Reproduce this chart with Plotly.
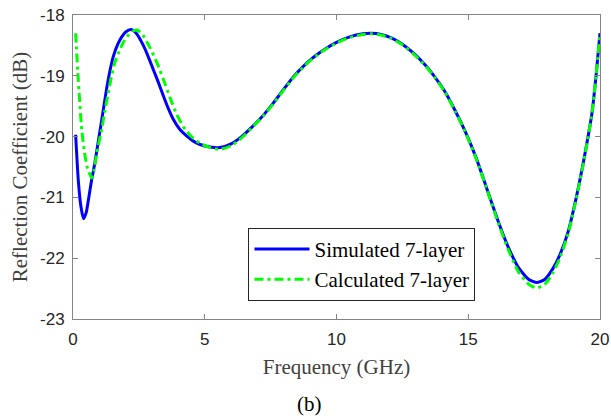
import plotly.graph_objects as go

# Simulated 7-layer (blue solid)
sim_freq = [0.1, 0.2, 0.3, 0.4, 0.5, 0.6, 0.7, 0.83, 1.0, 1.1, 1.28, 1.4, 1.53, 1.7,
            1.85, 2.0, 2.2, 2.4, 2.67, 2.85, 3.05, 3.25, 3.43, 3.6, 3.81, 4.05, 4.31,
            4.55, 4.82, 5.2, 5.58, 6.0, 6.4, 6.8, 7.2, 7.6, 8.0, 8.4, 8.8, 9.2, 9.6,
            10.0, 10.5, 11.0, 11.3, 11.7, 12.1, 12.5, 12.9, 13.3, 13.7, 14.1, 14.5,
            14.9, 15.3, 15.7, 16.1, 16.5, 16.9, 17.3, 17.6, 17.9, 18.2, 18.5, 18.8,
            19.1, 19.4, 19.7, 19.85, 20.0]
sim_db = [-19.97, -20.71, -21.15, -21.35, -21.25, -21.0, -20.73, -20.43, -19.97, -19.7,
          -19.2, -18.92, -18.68, -18.48, -18.36, -18.28, -18.24, -18.3, -18.5, -18.68,
          -18.9, -19.12, -19.33, -19.52, -19.72, -19.88, -19.99, -20.07, -20.13,
          -20.17, -20.18, -20.12, -20.0, -19.84, -19.66, -19.45, -19.22, -19.0,
          -18.82, -18.67, -18.55, -18.45, -18.36, -18.31, -18.3, -18.32, -18.38,
          -18.48, -18.62, -18.79, -19.0, -19.25, -19.57, -19.93, -20.35, -20.85,
          -21.35, -21.8, -22.15, -22.35, -22.4, -22.35, -22.18, -21.92, -21.55,
          -21.0, -20.35, -19.6, -19.0, -18.3]

# Calculated 7-layer (green dash-dot)
calc_freq = [0.1, 0.2, 0.33, 0.45, 0.55, 0.71, 0.8, 0.9, 1.09, 1.2, 1.34, 1.45, 1.59,
             1.75, 1.91, 2.1, 2.29, 2.45, 2.65, 2.9, 3.2, 3.43, 3.7, 3.94, 4.25, 4.57,
             4.9, 5.2, 5.58, 6.0, 6.4, 6.8, 7.2, 7.6, 8.0, 8.4, 8.8, 9.2, 9.6, 10.0,
             10.5, 11.0, 11.3, 11.7, 12.1, 12.5, 12.9, 13.3, 13.7, 14.1, 14.5, 14.9,
             15.3, 15.7, 16.1, 16.5, 16.9, 17.3, 17.6, 17.9, 18.2, 18.5, 18.8, 19.1,
             19.4, 19.7, 19.85, 20.0]
calc_db = [-18.3, -19.06, -19.88, -20.3, -20.52, -20.68, -20.55, -20.27, -19.88, -19.6,
           -19.28, -19.03, -18.78, -18.6, -18.45, -18.33, -18.26, -18.25, -18.33,
           -18.52, -18.8, -19.06, -19.38, -19.64, -19.88, -20.03, -20.13, -20.18,
           -20.21, -20.15, -20.02, -19.85, -19.67, -19.46, -19.23, -19.01, -18.83,
           -18.68, -18.56, -18.46, -18.37, -18.32, -18.31, -18.33, -18.39, -18.49,
           -18.63, -18.8, -19.01, -19.26, -19.58, -19.94, -20.36, -20.86, -21.37,
           -21.84, -22.22, -22.43, -22.49, -22.43, -22.25, -21.97, -21.58, -21.02,
           -20.37, -19.6, -19.0, -18.3]

x_ticks = [0, 5, 10, 15, 20]
y_ticks = [-23, -22, -21, -20, -19, -18]
y_tick_text = ['-23', '-22', '-21', '-20', '-19', '-18']

serif = 'Liberation Serif'
sans = 'Liberation Sans'
axis_grey = '#858585'

fig = go.Figure()

fig.add_trace(go.Scatter(
    x=sim_freq, y=sim_db, mode='lines', name='Simulated 7-layer',
    line=dict(color='#0000FF', width=3, shape='spline', smoothing=0.6)
))
fig.add_trace(go.Scatter(
    x=calc_freq, y=calc_db, mode='lines', name='Calculated 7-layer',
    line=dict(color='#00FF00', width=3, shape='spline', smoothing=0.6,
              dash='9px,4px,3px,4px')
))

axis_style = dict(
    showline=True, linecolor=axis_grey, linewidth=1, mirror='ticks',
    ticks='inside', ticklen=5, tickcolor=axis_grey, showgrid=False,
    zeroline=False, automargin=False,
    tickfont=dict(family=sans, size=17, color='#262626')
)

fig.update_xaxes(
    range=[0, 20], tickvals=x_ticks, ticklabelstandoff=5,
    title=dict(text='Frequency (GHz)', font=dict(family=serif, size=21, color='#404040'),
               standoff=10),
    **axis_style
)
fig.update_yaxes(
    range=[-23, -18], tickvals=y_ticks, ticktext=y_tick_text, ticklabelstandoff=4,
    title=dict(text='Reflection Coefficient (dB)',
               font=dict(family=serif, size=21, color='#404040'), standoff=6),
    **axis_style
)

fig.add_annotation(
    text='(b)', xref='paper', yref='paper', x=0.448, y=-0.28,
    xanchor='center', yanchor='middle', showarrow=False,
    font=dict(family=serif, size=21, color='#000000')
)

fig.update_layout(
    width=611, height=419,
    margin=dict(l=73, r=11, t=15, b=100),
    paper_bgcolor='white', plot_bgcolor='white',
    legend=dict(
        x=0.333, y=0.18, xanchor='left', yanchor='middle',
        bgcolor='white', bordercolor='#262626', borderwidth=1,
        font=dict(family=serif, size=21, color='#000000'),
        tracegroupgap=0, itemwidth=55
    ),
    showlegend=True
)

# no page margin or scrollbars round the fixed-size figure
page_js = ("document.body.style.margin='0px';"
           "document.body.style.overflow='hidden';"
           "document.documentElement.style.overflow='hidden';")
fig.write_html('out.html', config={'displayModeBar': False}, post_script=page_js)
